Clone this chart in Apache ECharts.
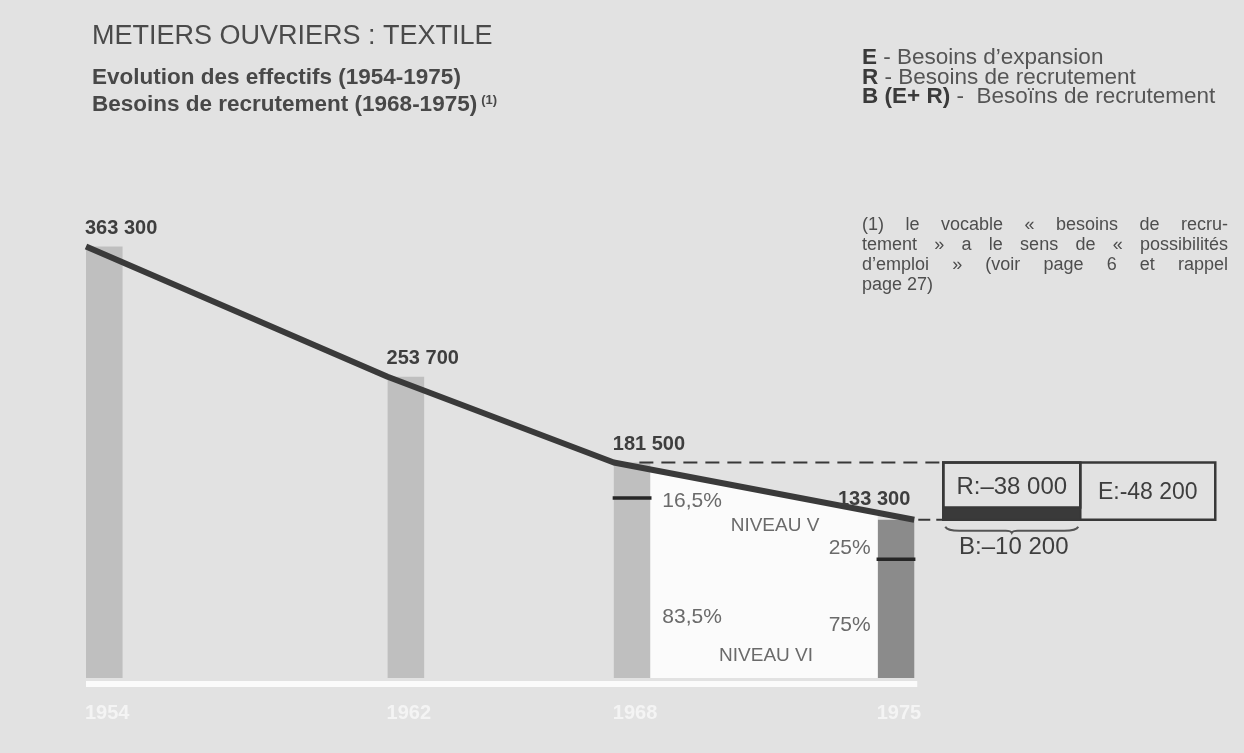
<!DOCTYPE html>
<html>
<head>
<meta charset="utf-8">
<script src="https://cdn.jsdelivr.net/npm/echarts@6/dist/echarts.min.js"></script>
<style>
  html, body { margin: 0; padding: 0; background: #e2e2e2; }
  #chart { width: 1244px; height: 753px; }
</style>
</head>
<body>
<div id="chart"></div>
<script>
// Effectifs des métiers ouvriers du textile
const years = [1954, 1962, 1968, 1975];
const yearLabels = ['1954', '1962', '1968', '1975'];
const effectifs = [363300, 253700, 181500, 133300];
const effectifLabels = ['363 300', '253 700', '181 500', '133 300'];

// Répartition par niveau (1968 et 1975)
const shareYears = [1968, 1975];
const shareNiveauV = [16.5, 25];
const shareNiveauVI = [83.5, 75];
const shareLabelsV = ['16,5%', '25%'];
const shareLabelsVI = ['83,5%', '75%'];
const niveauLabels = ['NIVEAU V', 'NIVEAU VI'];

// Besoins 1968-1975
const besoinsR = -38000;
const besoinsE = -48200;
const besoinsB = -10200;
const besoinsLabels = ['R:\u201338 000', 'E:-48 200', 'B:\u201310 200'];

// Textes
const titleText = 'METIERS OUVRIERS : TEXTILE';
const subtitleLines = ['Evolution des effectifs (1954-1975)', 'Besoins de recrutement (1968-1975)'];
const noteCall = '(1)';
const legendLines = [
  ['E', ' - Besoins d\u2019expansion'],
  ['R', ' - Besoins de recrutement'],
  ['B (E+ R)', ' -  Beso\u00efns de recrutement']
];
const noteLines = [
  '(1) le vocable \u00ab besoins de recru-',
  'tement \u00bb a le sens de \u00ab possibilit\u00e9s',
  'd\u2019emploi \u00bb (voir page 6 et rappel',
  'page 27)'
];

const FONT = '"Liberation Sans", Arial, Helvetica, sans-serif';
const BAR_SPAN = 0.97;         // bar width, in years
const LIGHT = '#bfbfbf';
const DARK = '#8b8b8b';
const INK = '#3a3a3a';
const TEXT = '#4e4e4e';
const SOFT = '#6a6a6a';

// polyline of effectifs: the last point sits on the far edge of the last bar
const lineData = years.map((y, i) => [i === years.length - 1 ? y + BAR_SPAN : y, effectifs[i]]);
function lineAt(x) {
  for (let i = 0; i < lineData.length - 1; i++) {
    const a = lineData[i], b = lineData[i + 1];
    if (x >= a[0] && x <= b[0]) return a[1] + (b[1] - a[1]) * (x - a[0]) / (b[0] - a[0]);
  }
  return lineData[lineData.length - 1][1];
}

const measure = document.createElement('canvas').getContext('2d');
function textWidth(text, size, weight) {
  measure.font = (weight || 'normal') + ' ' + size + 'px ' + FONT;
  return measure.measureText(text).width;
}

function txt(x, y, text, size, opts) {
  opts = opts || {};
  return {
    type: 'text', x: x, y: y, z: opts.z || 10,
    style: {
      text: text, fill: opts.fill || TEXT, fontSize: size, fontFamily: FONT,
      fontWeight: opts.weight || 'normal', align: opts.align || 'left',
      verticalAlign: 'middle', rich: opts.rich
    }
  };
}

function renderBar(params, api) {
  const i = params.dataIndex;
  const p0 = api.coord([api.value(0), api.value(1)]);
  const p1 = api.coord([api.value(0) + BAR_SPAN, 0]);
  return {
    type: 'group',
    children: [
      { type: 'rect', shape: { x: p0[0], y: p0[1], width: p1[0] - p0[0], height: p1[1] - p0[1] },
        style: { fill: i === years.length - 1 ? DARK : LIGHT } },
      txt(p0[0] - 1, p1[1] + 35, yearLabels[i], 20, { weight: 'bold', fill: '#f4f4f4' })
    ]
  };
}

function renderBaseline(params, api) {
  const a = api.coord([years[0], 0]);
  const b = api.coord([years[years.length - 1] + BAR_SPAN, 0]);
  return { type: 'rect', shape: { x: a[0], y: a[1] + 3, width: b[0] - a[0] + 3, height: 6 },
           style: { fill: '#fbfbfb' } };
}

function renderNiveau(params, api) {
  const x0 = years[2] + BAR_SPAN, x1 = years[3];
  const a = api.coord([x0, lineAt(x0)]);
  const b = api.coord([x1, lineAt(x1)]);
  const c = api.coord([x1, 0]);
  const d = api.coord([x0, 0]);
  const children = [
    { type: 'polygon', shape: { points: [a, b, c, d] }, style: { fill: '#fbfbfb' } }
  ];
  const marks = shareYears.map((y, k) => {
    const idx = years.indexOf(y);
    const v = effectifs[idx] * shareNiveauVI[k] / 100;
    const m0 = api.coord([y - 0.03, v]);
    const m1 = api.coord([y + BAR_SPAN + 0.03, v]);
    children.push({ type: 'line', shape: { x1: m0[0], y1: m0[1], x2: m1[0], y2: m1[1] },
                    style: { stroke: '#262626', lineWidth: 3.5 } });
    return m0[1];
  });
  const mid = (d[0] + c[0]) / 2;
  children.push(txt(d[0] + 12, marks[0] + 3, shareLabelsV[0], 21, { fill: SOFT }));
  children.push(txt(d[0] + 12, d[1] - 61, shareLabelsVI[0], 21, { fill: SOFT }));
  children.push(txt(c[0] - 7, marks[1] - 11, shareLabelsV[1], 21, { fill: SOFT, align: 'right' }));
  children.push(txt(c[0] - 7, c[1] - 53, shareLabelsVI[1], 21, { fill: SOFT, align: 'right' }));
  children.push(txt(mid + 11, marks[1] - 34, niveauLabels[0], 19, { fill: SOFT, align: 'center' }));
  children.push(txt(mid + 2, d[1] - 22, niveauLabels[1], 19, { fill: SOFT, align: 'center' }));
  return { type: 'group', children: children };
}

function renderBesoins(params, api) {
  const top = effectifs[2];
  const yTop = api.coord([years[0], top])[1];
  const yR = api.coord([years[0], top + besoinsR])[1];
  const yBot = api.coord([years[0], top + besoinsE])[1];
  const yB = api.coord([years[0], top + besoinsR + besoinsB])[1];
  const xBar = api.coord([years[3] + BAR_SPAN, 0])[0];
  const xStart = api.coord([years[2] + BAR_SPAN, 0])[0] - 11;
  const left = xBar + 29, divider = left + 137, right = left + 272;
  const ink = '#383838';
  const cx = (left + divider) / 2;
  const by = yBot + 7, bt = yBot + 12;
  const brace = 'M' + (left + 2) + ' ' + by +
    ' Q' + (left + 4) + ' ' + (by + 4) + ' ' + (left + 16) + ' ' + (by + 4) +
    ' L' + (cx - 6) + ' ' + (by + 4) +
    ' Q' + (cx - 1) + ' ' + (by + 4) + ' ' + cx + ' ' + (bt + 1) +
    ' Q' + (cx + 1) + ' ' + (by + 4) + ' ' + (cx + 6) + ' ' + (by + 4) +
    ' L' + (divider - 16) + ' ' + (by + 4) +
    ' Q' + (divider - 4) + ' ' + (by + 4) + ' ' + (divider - 2) + ' ' + by;
  return {
    type: 'group',
    children: [
      { type: 'line', shape: { x1: xStart, y1: yTop, x2: left, y2: yTop },
        style: { stroke: ink, lineWidth: 2, lineDash: [14, 8] } },
      { type: 'line', shape: { x1: xBar + 4, y1: yBot, x2: left, y2: yBot },
        style: { stroke: ink, lineWidth: 2, lineDash: [12, 6] } },
      { type: 'rect', shape: { x: left, y: yR, width: divider - left, height: yB - yR },
        style: { fill: '#3a3a3a' } },
      { type: 'rect', shape: { x: left, y: yTop, width: divider - left, height: yR - yTop },
        style: { fill: 'none', stroke: ink, lineWidth: 2.5 } },
      { type: 'rect', shape: { x: left, y: yTop, width: right - left, height: yBot - yTop },
        style: { fill: 'none', stroke: ink, lineWidth: 2.5 } },
      { type: 'line', shape: { x1: divider, y1: yTop, x2: divider, y2: yBot },
        style: { stroke: ink, lineWidth: 2.5 } },
      { type: 'path', shape: { pathData: brace }, style: { fill: 'none', stroke: '#555', lineWidth: 2 } },
      txt(cx, (yTop + yR) / 2 + 2, besoinsLabels[0], 24, { fill: '#3e3e3e', align: 'center' }),
      txt((divider + right) / 2, (yTop + yBot) / 2 + 2, besoinsLabels[1], 23, { fill: '#3e3e3e', align: 'center' }),
      txt(cx + 2, yBot + 28, besoinsLabels[2], 24, { fill: '#3e3e3e', align: 'center' })
    ]
  };
}

function renderValueLabel(params, api) {
  const i = params.dataIndex;
  const p = api.coord([api.value(0), api.value(1)]);
  const last = i === years.length - 1;
  return txt(last ? p[0] - 4 : p[0] - 1, p[1] - (last ? 20 : 18), effectifLabels[i], 20,
             { weight: 'bold', fill: '#3e3e3e', align: last ? 'right' : 'left' });
}

// Justified footnote, word by word
const NOTE_SIZE = 18;
const NOTE_X = 862, NOTE_W = 366, NOTE_Y = 225.5, NOTE_LH = 19.7;
const noteElements = [];
noteLines.forEach((line, li) => {
  const words = line.split(' ');
  const y = NOTE_Y + li * NOTE_LH;
  const last = li === noteLines.length - 1;
  const widths = words.map(w => textWidth(w, NOTE_SIZE));
  const total = widths.reduce((s, w) => s + w, 0);
  const gap = last ? textWidth(' ', NOTE_SIZE) : (NOTE_W - total) / (words.length - 1);
  let x = NOTE_X;
  words.forEach((w, k) => {
    noteElements.push(txt(x, y, w, NOTE_SIZE, { fill: TEXT }));
    x += widths[k] + gap;
  });
});

const SUB_SIZE = 22.5;
const callX = 92 + textWidth(subtitleLines[1], SUB_SIZE, 'bold') + 4;
const graphics = [
  txt(92, 37, titleText, 27, { fill: '#4a4a4a' }),
  txt(92, 78, subtitleLines[0], SUB_SIZE, { weight: 'bold', fill: '#484848' }),
  txt(92, 105, subtitleLines[1], SUB_SIZE, { weight: 'bold', fill: '#484848' }),
  txt(callX, 100, noteCall, 13, { weight: 'bold', fill: '#484848' })
].concat(legendLines.map((l, i) => txt(862, 58 + i * 19.3, '{b|' + l[0] + '}' + l[1], 22.5, {
  fill: '#555', rich: { b: { fontWeight: 'bold', fill: '#3a3a3a', fontSize: 22.5, fontFamily: FONT } }
}))).concat(noteElements);

const chart = echarts.init(document.getElementById('chart'), null, { renderer: 'canvas' });
chart.setOption({
  backgroundColor: '#e2e2e2',
  animation: false,
  grid: { left: 86, top: 203, width: 1131, height: 475 },
  xAxis: { type: 'value', min: 1954, max: 1984, show: false },
  yAxis: { type: 'value', min: 0, max: 400000, show: false },
  graphic: graphics,
  series: [
    { type: 'custom', z: 1, renderItem: renderBar, data: years.map((y, i) => [y, effectifs[i]]) },
    { type: 'custom', z: 1, renderItem: renderBaseline, data: [[years[0], 0]] },
    { type: 'custom', z: 2, renderItem: renderNiveau, data: [[years[2], 0]] },
    { type: 'line', z: 5, data: lineData, symbol: 'none', lineStyle: { color: INK, width: 6 } },
    { type: 'custom', z: 6, renderItem: renderBesoins, data: [[years[2], effectifs[2]]] },
    { type: 'custom', z: 7, renderItem: renderValueLabel, data: lineData }
  ]
});
</script>
</body>
</html>
